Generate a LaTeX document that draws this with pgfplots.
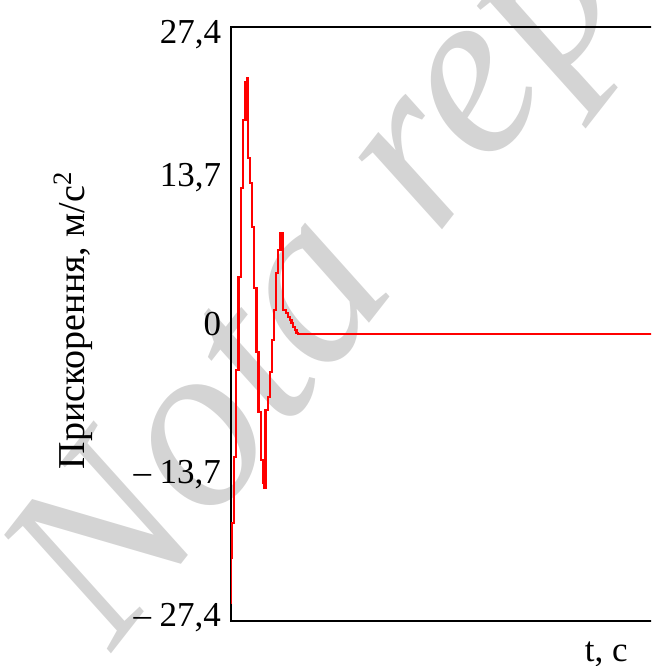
\documentclass[border=0pt]{standalone}
\usepackage{fontspec}
\setmainfont{Liberation Serif}
\usepackage{pgfplots}
\usepackage{pgfplotstable}
\pgfplotsset{compat=1.18}

% jerk response (sampled, held between samples)
\pgfplotstableread{
t      a
0.000  -25.83
0.000  -21.59
0.013  -18.36
0.033  -12.27
0.050   -4.24
0.075    4.34
0.097   12.55
0.120   18.82
0.145   22.33
0.163   22.69
0.174   15.31
0.190   13.01
0.207    8.95
0.230    3.32
0.255   -2.58
0.275   -8.12
0.300  -12.55
0.323  -14.67
0.335  -15.13
0.346   -7.93
0.367   -6.73
0.390   -4.43
0.407   -1.48
0.430    1.29
0.453    4.71
0.473    6.83
0.496    8.40
0.517    1.29
0.555    1.01
0.573    0.65
0.590    0.37
0.607    0.09
0.623   -0.28
0.640   -0.55
0.657   -0.83
0.673   -0.92
4.700   -0.92
}\jerk

% tick label set on a zero-size box, centred on the tick and nudged by #1
\newcommand\tl[2]{\smash{\raisebox{\dimexpr-3.45pt+#1\relax}{#2}}}

\begin{document}
\begin{tikzpicture}
\path[use as bounding box] (-69.3pt,-13.5pt) rectangle (126pt,186.3pt);
\clip (-69.3pt,-13.5pt) rectangle (126pt,186.3pt);
\node[rotate=52, anchor=base west, text=black!17, inner sep=0pt,
      font=\fontsize{72}{80}\selectfont\itshape] at (-35.7pt,-9.6pt) {Nota rep};
\begin{axis}[
  at={(0pt,0pt)}, anchor=south west,
  scale only axis, width=140.7pt, height=178.2pt,
  xmin=0, xmax=4.7, ymin=-27.4, ymax=27.4,
  xtick=\empty,
  ytick={-27.4,-13.7,0,13.7,27.4},
  yticklabels={{\tl{1.8pt}{– 27,4}},{\tl{0pt}{– 13,7}},{\tl{0pt}{0}},{\tl{0pt}{13,7}},{\tl{-1.5pt}{27,4}}},
  major tick length=0pt,
  yticklabel style={inner sep=0pt, anchor=east, xshift=-2.7pt, font=\fontsize{10.5}{12}\selectfont},
  line width=0.6pt,
]
\addplot[const plot, red, line width=0.65pt] table[x=t,y=a] {\jerk};
\end{axis}
\node[rotate=90, font=\fontsize{11.4}{13}\selectfont] at (-47.4pt,90.3pt) {Прискорення, м/с\textsuperscript{2}};
\node[anchor=base, inner sep=0pt, font=\fontsize{10.5}{12}\selectfont] at (112.6pt,-12.3pt) {t, c};
\end{tikzpicture}
\end{document}
